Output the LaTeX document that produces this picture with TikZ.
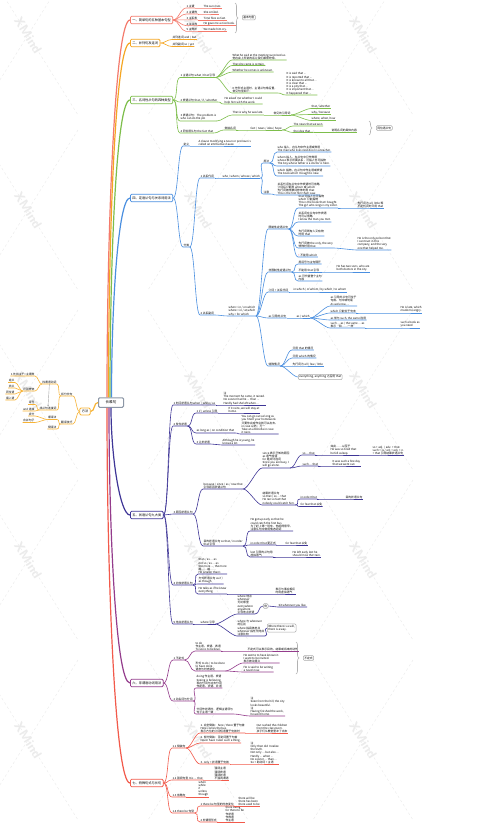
\documentclass[tikz,border=0pt]{standalone}
\usepackage{fontspec}
\setmainfont{Noto Sans CJK SC}
\usepackage{xcolor}
\usepackage{tikz}
\usetikzlibrary{arrows.meta, decorations.pathreplacing, calc}
\definecolor{cA}{HTML}{F47A6C}
\definecolor{cB}{HTML}{F5A623}
\definecolor{cC}{HTML}{7DBE4B}
\definecolor{cD}{HTML}{4A8FE0}
\definecolor{cE}{HTML}{3F3697}
\definecolor{cF}{HTML}{943C8C}
\definecolor{cG}{HTML}{F25A4B}
\definecolor{cH}{HTML}{F7B335}
\definecolor{rootline}{HTML}{8C97A6}
\tikzstyle{rootbox} = [rectangle, draw=rootline, line width=1pt, rounded corners=1.2pt, fill=white, font=\fontsize{3.6}{4}\selectfont, minimum width=25pt, minimum height=9.5pt, inner sep=1pt]
\tikzstyle{topic} = [rectangle, line width=0.8pt, rounded corners=1.2pt, fill=white, font=\fontsize{3.2}{3.6}\selectfont, minimum height=7.5pt, inner xsep=2pt, inner ysep=0.8pt, anchor=west]
\tikzstyle{sub} = [anchor=south west, align=left, font=\fontsize{2.8}{3.2}\selectfont, inner xsep=0.4pt, inner ysep=0.15pt]
\tikzstyle{lsub} = [sub, anchor=south east, align=right]
\tikzstyle{summary} = [rectangle, draw=gray!65, line width=0.5pt, rounded corners=1pt, fill=white, align=left, font=\fontsize{2.8}{3.2}\selectfont, inner sep=1pt, anchor=west]
\tikzstyle{trunk} = [line width=1.2pt]
\tikzstyle{lnk} = [line width=0.6pt]
\tikzstyle{cv} = [out=0, in=180, distance=5pt]
\tikzstyle{cvl} = [out=180, in=0, distance=3pt]
\tikzstyle{sumbrace} = [draw=gray!60, line width=0.6pt, decorate, decoration={brace, amplitude=3pt}]
\tikzstyle{rel} = [draw=gray!70, line width=0.4pt, -{Stealth[length=2pt, width=1.6pt]}]
\tikzstyle{wm} = [black!9, line width=0.35pt, dash pattern=on 2.5pt off 2.5pt]
\tikzstyle{wmtext} = [black!8, font=\sffamily\bfseries\fontsize{13}{13}\selectfont, rotate=-58]

\begin{document}
\begin{tikzpicture}[x=1pt, y=-1pt]
    \useasboundingbox (0,0) rectangle (491,825);
    \fill[white] (0,0) rectangle (491,825);

    % 水印
    \foreach \x in {28,198,363} {
        \foreach \y in {35,210,390,560,740} {
            \draw[wm] (\x-50,\y-80) -- (\x+50,\y+80);
            \draw[wm] (\x+50,\y-80) -- (\x-50,\y+80);
            \node (wm\x\y) [wmtext] at (\x,\y) {XMind};
        }
    }

    % 中心
    \node (root) [rootbox] at (111,402.5) {长难句};

    % 左侧：方法
    \node (ff) [topic, draw=cH, anchor=center, minimum height=7pt] at (85,411.5) {方法};
    \node (ff1) [lsub] at (73,396) {拆分长句};
    \node (ff2) [lsub] at (73,424) {翻译技巧};
    \node (ffa) [lsub] at (57,384) {找谓语动词};
    \node (ffb) [lsub] at (57,410) {找从句连接词};
    \node (ffa1) [lsub] at (35,376) {1 先找主干=主谓宾};
    \node (ffa2) [lsub] at (35,391) {识别修饰};
    \node (ffa21) [lsub] at (15,382.5) {定从};
    \node (ffa22) [lsub] at (15,388) {状从};
    \node (ffa23) [lsub] at (15,394) {同位语};
    \node (ffa24) [lsub] at (15,400) {插入语};
    \node (ffb1) [lsub] at (35,404.5) {逗号};
    \node (ffb2) [lsub] at (35,411) {and 连接};
    \node (ffc) [lsub] at (57,419.5) {顺译法};
    \node (ffd) [lsub] at (57,429) {倒译法};
    \node (ffc1) [lsub] at (35,416) {拆分};
    \node (ffc2) [lsub] at (35,422.5) {合并句子};

    % 一、简单句
    \node (jx) [topic, draw=cA] at (130,20) {一、简单句的五种基本句型};
    \node (jx1) [sub] at (186,8) {1 主谓};
    \node (jx2) [sub] at (186,14) {2 主谓宾};
    \node (jx3) [sub] at (186,19.8) {3 主系表};
    \node (jx4) [sub] at (186,25.6) {4 主双宾};
    \node (jx5) [sub] at (186,31.4) {5 主宾补};
    \node (jx1a) [sub] at (203,8) {The sun rises.};
    \node (jx2a) [sub] at (203,14) {She smiled.};
    \node (jx3a) [sub] at (203,19.8) {Time flies so fast.};
    \node (jx4a) [sub] at (203,25.6) {He gave me a nice book.};
    \node (jx5a) [sub] at (203,31.4) {We made him cry.};
    \draw[sumbrace] (235,3) -- (235,33);
    \node (jxsum) [summary] at (242,17.5) {基本句型};

    % 二、并列句
    \node (bl) [topic, draw=cB] at (130,43) {二、并列句及连词};
    \node (bl1) [sub] at (172,39.5) {并列连词 and / but};
    \node (bl2) [sub] at (172,46.5) {并列副词 so / yet};

    % 三、名词性从句
    \node (mc) [topic, draw=cC] at (130,100) {三、名词性从句的四种类型};
    \node (mc1) [sub] at (180,77.5) {1 主语从句 what / that 引导};
    \node (mc1a) [sub] at (232,60) {What he said at the meeting surprised us.\\他在会上所说的话让我们都很吃惊。};
    \node (mc1b) [sub] at (232,65.5) {That she came is certain.};
    \node (mc1c) [sub] at (232,72) {Whether he comes is unknown.};
    \node (mc1d) [sub] at (232,93) {It 作形式主语时，主语从句常后置，\\常见句型如下：};
    \node (mc1e) [sub] at (286,95) {It is said that ...\\It is reported that ...\\It is known to all that ...\\It is clear that ...\\It is a pity that ...\\It is important that ...\\It happened that ...};
    \node (mc2) [sub] at (180,102) {2 宾语从句 that / if / whether};
    \node (mc2a) [sub] at (224,104) {He asked me whether I could\\help him with the work.};
    \node (mc3) [sub] at (180,121) {3 表语从句：The problem is\\who can do the job};
    \node (mc3a) [sub] at (232,115) {That is why he was late.};
    \node (mc3b) [sub] at (273,115) {常见的引导词};
    \node (mc3b1) [sub] at (311,108.5) {that / whether};
    \node (mc3b2) [sub] at (311,114.5) {why / because};
    \node (mc3b3) [sub] at (311,120.5) {where, when, how};
    \node (mc4) [sub] at (180,133) {4 同位语从句 the fact that};
    \node (mc4a) [sub] at (224,130) {常接名词};
    \node (mc4b) [sub] at (250,130) {fact / news / idea / hope};
    \node (mc4c) [sub] at (293,126) {The news that we won};
    \node (mc4d) [sub] at (293,132.5) {the idea that ...};
    \node (mc4e) [sub] at (331,132.5) {说明名词的具体内容};
    \draw[sumbrace] (369,121) -- (369,135);
    \node (mcsum) [summary] at (376,128) {同位语从句};

    % 四、定语从句
    \node (dy) [topic, draw=cD] at (130,198) {四、定语从句与关系词用法};
    \node (dy1) [sub] at (183,146) {定义};
    \node (dy1a) [sub] at (198,146) {A clause modifying a noun or pronoun is\\called an attributive clause.};
    \node (dy2) [sub] at (183,247) {分类};
    \node (dy21) [sub] at (200,178) {1 关系代词};
    \node (dy21a) [sub] at (222,178) {who / whom / whose / which};
    \node (dy21b) [sub] at (263,163) {用法};
    \node (dy21c) [sub] at (263,194) {注意};
    \node (dy21b1) [sub] at (277,152) {who 指人，在从句中作主语或宾语\\The man who lives next door is a teacher.};
    \node (dy21b2) [sub] at (277,166) {whom 指人，在从句中只作宾语\\whose 表示所属关系，可指人也可指物\\The boy whose father is a doctor is here.};
    \node (dy21b3) [sub] at (277,176) {which 指物，在从句中作主语或宾语\\The book which I bought is new.};
    \node (dy21c1) [sub] at (277,195) {关系代词在从句中作宾语时可省略\\介词后只能用 whom 或 which\\先行词被序数词修饰时用 that\\This is the first film that I saw.};
    \node (dy22) [sub] at (200,315) {2 关系副词};
    \node (dy22a) [sub] at (228,316) {when = in / on which\\where = in / at which\\why = for which};
    \node (dy22b) [sub] at (268,229) {限制性定语从句};
    \node (dy22b1) [sub] at (298,208) {that 可指人也可指物\\which 只能指物\\This is the book that I bought.\\The girl who sings is my sister.};
    \node (dy22b1a) [sub] at (357,208) {先行词为 all, little 等\\不定代词时只用 that};
    \node (dy22b2) [sub] at (298,222) {关系词在从句中作宾语\\时可以省略\\I know the man you met.};
    \node (dy22b3) [sub] at (298,236) {先行词既有人又有物\\时用 that};
    \node (dy22b4) [sub] at (298,248) {先行词被 the only, the very\\修饰时用 that};
    \node (dy22b4a) [sub] at (357,250) {He is the only person that\\I can trust in this\\company, and the very\\one that helped me.};
    \node (dy22b5) [sub] at (298,257) {\textcolor{red}{!} 不能用 which};
    \node (dy22c) [sub] at (268,272) {非限制性定语从句};
    \node (dy22c1) [sub] at (298,264) {用逗号与主句隔开};
    \node (dy22c2) [sub] at (298,272) {不能用 that 引导};
    \node (dy22c2a) [sub] at (336,272) {He has two sons, who are\\both doctors in the city.};
    \node (dy22c3) [sub] at (298,281) {as 可代替整个主句\\内容};
    \node (dy22d) [sub] at (268,292) {介词 + 关系代词};
    \node (dy22d1) [sub] at (293,292) {in which / of whom / by which / to whom};
    \node (dy22e) [sub] at (268,318) {as 引导的从句};
    \node (dy22e1) [sub] at (296,318) {as / which};
    \node (dy22e1a) [sub] at (330,306) {as 引导的从句可位于\\句首、句中或句尾\\As we know, ...};
    \node (dy22e1b) [sub] at (330,313) {which 只能位于句末};
    \node (dy22e1c) [sub] at (330,320) {as 常与 such, the same 连用};
    \node (dy22e1d) [sub] at (330,328) {such ... as / the same ... as\\表示“和……一样”};
    \node (dy22e1b1) [sub] at (400,313) {He is late, which\\made me angry.};
    \node (dy22e1d1) [sub] at (400,328) {such a book as\\you need};
    \node (dy22f) [sub] at (268,366) {特殊情况};
    \node (dy22f1) [sub] at (292,350) {只用 that 的情况};
    \node (dy22f2) [sub] at (292,358) {只用 which 的情况};
    \node (dy22f3) [sub] at (292,366) {先行词为 all / few / little};
    \node (dy22f4) [summary] at (298,377) {everything, anything 之后用 that};

    % 五、状语从句
    \node (zy) [topic, draw=cE] at (130,515) {五、状语从句九大类};
    \node (zy1) [sub] at (173,405) {1 时间状语从句 when / while / as};
    \node (zy1a) [sub] at (223,405) {注\\The moment he came, it rained.\\No sooner had he ... than ...\\Hardly had she left when ...};
    \node (zy2) [sub] at (173,426) {2 条件状语};
    \node (zy2a) [sub] at (196,413) {1 if / unless 引导};
    \node (zy2a1) [sub] at (228,413) {If it rains, we will stay at\\home.};
    \node (zy2b) [sub] at (196,433) {as long as / on condition that};
    \node (zy2b1) [sub] at (241,434) {You can go out as long as\\you finish your homework.\\只要你完成作业就可以出去。\\in case 以防；万一\\Take an umbrella in case\\it rains.};
    \node (zy2c) [sub] at (196,444) {3 让步状语};
    \node (zy2c1) [sub] at (222,445) {Although he is young, he\\knows a lot.};
    \node (zy3) [sub] at (173,514) {3 原因状语从句};
    \node (zy3a) [sub] at (203,489) {because / since / as / now that\\引导原因状语从句};
    \node (zy3a1) [sub] at (262,468) {since 表示已知的原因\\as 语气较弱\\for 是并列连词\\Since you are busy, I\\will go alone.};
    \node (zy3a1a) [sub] at (302,455) {so ... that};
    \node (zy3a1b) [sub] at (302,466) {such ... that};
    \node (zy3a1c) [sub] at (330,455) {如此……以至于\\He was so tired that\\he fell asleep.};
    \node (zy3a1d) [sub] at (372,455) {so + adj. / adv. + that\\such + (a / an) + adj. + n.\\+ that 引导结果状语从句};
    \node (zy3a1e) [sub] at (332,466) {It was such a fine day\\that we went out.};
    \node (zy3a2) [sub] at (262,505) {结果状语从句\\so that / so ... that\\He ran so fast that\\nobody could catch him.};
    \node (zy3a2a) [sub] at (300,499) {in order that};
    \node (zy3a2b) [sub] at (300,506.5) {for fear that 以免};
    \node (zy3a2c) [sub] at (345,499) {目的状语从句};
    \node (zy3b) [sub] at (203,546) {目的状语从句 so that / in order\\that 引导};
    \node (zy3b1) [sub] at (250,531) {He got up early so that he\\could catch the first bus.\\为了赶上第一班车，他起得很早。\\注意从句中常用情态动词};
    \node (zy3b2) [sub] at (250,545) {in order that 更正式};
    \node (zy3b2a) [sub] at (285,545) {for fear that 以免};
    \node (zy3b3) [sub] at (250,557) {lest 引导的从句用\\虚拟语气};
    \node (zy3b3a) [sub] at (292,557) {He left early lest he\\should miss the train.};
    \node (zy4) [sub] at (173,585) {4 比较状语从句};
    \node (zy4a) [sub] at (198,574) {than / as ... as\\not so / as ... as\\the more ..., the more\\越……越……\\He is taller than I.};
    \node (zy4b) [sub] at (198,584) {方式状语从句 as if /\\as though};
    \node (zy4c) [sub] at (198,594) {He talks as if he knew\\everything.};
    \node (zy4c1) [sub] at (275,594) {表示与事实相反\\时用虚拟语气};
    \node (zy5) [sub] at (173,624) {5 地点状语从句};
    \node (zy5a) [sub] at (200,624) {where 引导};
    \node (zy5a1) [sub] at (237,614) {where 地点\\wherever\\无论哪里\\everywhere\\anywhere\\引导地点状语};
    \node (zy5a1a) [summary] at (263,606) {例};
    \node (zy5a1b) [sub] at (278,607) {Sit wherever you like.};
    \node (zy5a2) [sub] at (237,636) {where 与 wherever\\的区别\\where 指具体地点\\wherever 指任何地点\\注意比较};
    \node (zy5a2a) [summary] at (267,628) {Where there is a will,\\there is a way.};

    % 六、非谓语动词
    \node (fw) [topic, draw=cF] at (130,683) {六、非谓语动词用法};
    \node (fw1) [sub] at (173,660) {1 不定式};
    \node (fw1a) [sub] at (195,651) {to do\\作主语、宾语、表语\\To see is to believe.};
    \node (fw1a1) [sub] at (247,651) {不定式可以表示目的、结果或将来的动作};
    \node (fw1b) [sub] at (195,671) {形式 to do / to be done\\to have done\\语态与时态变化};
    \node (fw1b1) [sub] at (243,663) {He seems to have known it.\\I want to be invited.\\表示被动意义};
    \node (fw1b2) [sub] at (243,672) {He is said to be writing\\a novel now.};
    \draw[sumbrace] (296,642) -- (296,674);
    \node (fwsum) [summary] at (303,658) {不定式};
    \node (fw2) [sub] at (173,701) {2 动名词与分词};
    \node (fw2a) [sub] at (196,688) {doing 作主语、宾语\\Seeing is believing.\\现在分词与过去分词\\作定语、状语、补语};
    \node (fw2b) [sub] at (196,714) {分词作状语时，逻辑主语须与\\句子主语一致};
    \node (fw2b1) [sub] at (250,716) {注\\Seen from the hill, the city\\looks beautiful.\\注\\Having finished the work,\\he went home.};

    % 七、特殊句式
    \node (ts) [topic, draw=cG] at (130,783) {七、特殊句式与长句};
    \node (ts1) [sub] at (172,748) {1.1 倒装句};
    \node (ts1a) [sub] at (200,733) {1. 完全倒装：here / there 置于句首\\Here comes the bus.\\表示方位的介词短语置于句首时};
    \node (ts1a1) [sub] at (256,733) {Out rushed the children\\from the classroom.\\孩子们从教室里冲了出去};
    \node (ts1b) [sub] at (200,743) {2. 部分倒装：否定词置于句首\\Never have I seen such a thing.};
    \node (ts1c) [sub] at (200,764) {3. only + 状语置于句首};
    \node (ts1c1) [sub] at (250,764) {注\\Only then did I realize\\the truth.\\Not only ... but also ...\\Hardly ... when ...\\No sooner ... than ...\\So + 助动词 + 主语};
    \node (ts2) [sub] at (172,780) {1.2 强调句型 It is ... that};
    \node (ts2a) [sub] at (214,780) {强调主语\\强调宾语\\强调状语\\不强调谓语};
    \node (ts3) [sub] at (172,797) {1.3 省略句};
    \node (ts3a) [sub] at (198,797) {when\\while\\if\\unless\\though};
    \node (ts4) [sub] at (172,813) {1.4 there be 句型};
    \node (ts4a) [sub] at (200,806) {1 there be 句型的时态变化};
    \node (ts4a1) [sub] at (238,806) {there will be\\there has been\\there used to be};
    \node (ts4b) [sub] at (200,822) {2 非谓语形式};
    \node (ts4b1) [sub] at (225,822) {there being\\for there to be\\作状语\\作宾语\\作主语};

    % 主干
    \draw[trunk, cA] ([xshift=-4pt]root.north) to[out=90, in=180, out distance=170pt, in distance=15pt] (jx.west);
    \draw[trunk, cB] ([xshift=-2.5pt]root.north) to[out=90, in=180, out distance=160pt, in distance=15pt] (bl.west);
    \draw[trunk, cC] ([xshift=-1pt]root.north) to[out=90, in=180, out distance=134pt, in distance=14pt] (mc.west);
    \draw[trunk, cD] ([xshift=0.5pt]root.north) to[out=90, in=180, out distance=90pt, in distance=12pt] (dy.west);
    \draw[trunk, cE] (root.south) to[out=-90, in=180, out distance=48pt, in distance=10pt] (zy.west);
    \draw[trunk, cF] ([xshift=-2pt]root.south) to[out=-90, in=180, out distance=124pt, in distance=14pt] (fw.west);
    \draw[trunk, cG] ([xshift=-4pt]root.south) to[out=-90, in=180, out distance=170pt, in distance=15pt] (ts.west);
    \draw[trunk, cH] (root.west) to[out=180, in=0] (ff.east);

    % 左侧连线
    \foreach \c in {ff1,ff2}
        \draw[lnk, cH] (ff.west) to[cvl] (\c.south east) -- (\c.south west);
    \foreach \p/\c in {ff1/ffa, ff1/ffb, ffa/ffa1, ffa/ffa2, ffa2/ffa21, ffa2/ffa22, ffa2/ffa23, ffa2/ffa24,
                       ffb/ffb1, ffb/ffb2, ff2/ffc, ff2/ffd, ffc/ffc1, ffc/ffc2}
        \draw[lnk, cH] (\p.south west) to[cvl] (\c.south east) -- (\c.south west);
    \draw[rel] (ffa.south) -- (ffb.north);

    % 分支连线
    \foreach \c in {jx1,jx2,jx3,jx4,jx5}
        \draw[lnk, cA] (jx.east) to[cv] (\c.south west) -- (\c.south east);
    \foreach \p/\c in {jx1/jx1a, jx2/jx2a, jx3/jx3a, jx4/jx4a, jx5/jx5a}
        \draw[lnk, cA] (\p.south east) to[cv] (\c.south west) -- (\c.south east);

    \foreach \c in {bl1,bl2}
        \draw[lnk, cB] (bl.east) to[cv] (\c.south west) -- (\c.south east);

    \foreach \c in {mc1,mc2,mc3,mc4}
        \draw[lnk, cC] (mc.east) to[cv] (\c.south west) -- (\c.south east);
    \foreach \p/\c in {mc1/mc1a, mc1/mc1b, mc1/mc1c, mc1/mc1d, mc1d/mc1e, mc2/mc2a, mc3/mc3a, mc3a/mc3b,
                       mc3b/mc3b1, mc3b/mc3b2, mc3b/mc3b3, mc4/mc4a, mc4a/mc4b, mc4b/mc4c, mc4b/mc4d, mc4d/mc4e}
        \draw[lnk, cC] (\p.south east) to[cv] (\c.south west) -- (\c.south east);

    \foreach \c in {dy1,dy2}
        \draw[lnk, cD] (dy.east) to[cv] (\c.south west) -- (\c.south east);
    \foreach \p/\c in {dy1/dy1a, dy2/dy21, dy2/dy22, dy21/dy21a, dy21a/dy21b, dy21a/dy21c,
                       dy21b/dy21b1, dy21b/dy21b2, dy21b/dy21b3, dy21c/dy21c1, dy22/dy22a,
                       dy22a/dy22b, dy22a/dy22c, dy22a/dy22d, dy22a/dy22e, dy22a/dy22f,
                       dy22b/dy22b1, dy22b/dy22b2, dy22b/dy22b3, dy22b/dy22b4, dy22b/dy22b5,
                       dy22b1/dy22b1a, dy22b4/dy22b4a, dy22c/dy22c1, dy22c/dy22c2, dy22c/dy22c3,
                       dy22c2/dy22c2a, dy22d/dy22d1, dy22e/dy22e1, dy22e1/dy22e1a, dy22e1/dy22e1b,
                       dy22e1/dy22e1c, dy22e1/dy22e1d, dy22e1b/dy22e1b1, dy22e1d/dy22e1d1,
                       dy22f/dy22f1, dy22f/dy22f2, dy22f/dy22f3}
        \draw[lnk, cD] (\p.south east) to[cv] (\c.south west) -- (\c.south east);
    \draw[lnk, cD] (dy22f.south east) to[cv] (dy22f4.west);

    \foreach \c in {zy1,zy2,zy3,zy4,zy5}
        \draw[lnk, cE] (zy.east) to[cv] (\c.south west) -- (\c.south east);
    \foreach \p/\c in {zy1/zy1a, zy2/zy2a, zy2/zy2b, zy2/zy2c, zy2a/zy2a1, zy2b/zy2b1, zy2c/zy2c1,
                       zy3/zy3a, zy3/zy3b, zy3a/zy3a1, zy3a/zy3a2, zy3a1/zy3a1a, zy3a1/zy3a1b,
                       zy3a1a/zy3a1c, zy3a1c/zy3a1d, zy3a1b/zy3a1e, zy3a2/zy3a2a, zy3a2/zy3a2b,
                       zy3a2a/zy3a2c, zy3b/zy3b1, zy3b/zy3b2, zy3b/zy3b3, zy3b2/zy3b2a, zy3b3/zy3b3a,
                       zy4/zy4a, zy4/zy4b, zy4/zy4c, zy4c/zy4c1, zy5/zy5a, zy5a/zy5a1, zy5a/zy5a2}
        \draw[lnk, cE] (\p.south east) to[cv] (\c.south west) -- (\c.south east);
    \draw[lnk, cE] (zy5a1.south east) to[cv] (zy5a1a.west);
    \draw[lnk, cE] (zy5a1a.east) to[cv] (zy5a1b.south west) -- (zy5a1b.south east);
    \draw[lnk, cE] (zy5a2.south east) to[cv] (zy5a2a.west);

    \foreach \c in {fw1,fw2}
        \draw[lnk, cF] (fw.east) to[cv] (\c.south west) -- (\c.south east);
    \foreach \p/\c in {fw1/fw1a, fw1/fw1b, fw1a/fw1a1, fw1b/fw1b1, fw1b/fw1b2, fw2/fw2a, fw2/fw2b, fw2b/fw2b1}
        \draw[lnk, cF] (\p.south east) to[cv] (\c.south west) -- (\c.south east);

    \foreach \c in {ts1,ts2,ts3,ts4}
        \draw[lnk, cG] (ts.east) to[cv] (\c.south west) -- (\c.south east);
    \foreach \p/\c in {ts1/ts1a, ts1/ts1b, ts1/ts1c, ts1a/ts1a1, ts1c/ts1c1, ts2/ts2a, ts3/ts3a,
                       ts4/ts4a, ts4/ts4b, ts4a/ts4a1, ts4b/ts4b1}
        \draw[lnk, cG] (\p.south east) to[cv] (\c.south west) -- (\c.south east);
\end{tikzpicture}
\end{document}
